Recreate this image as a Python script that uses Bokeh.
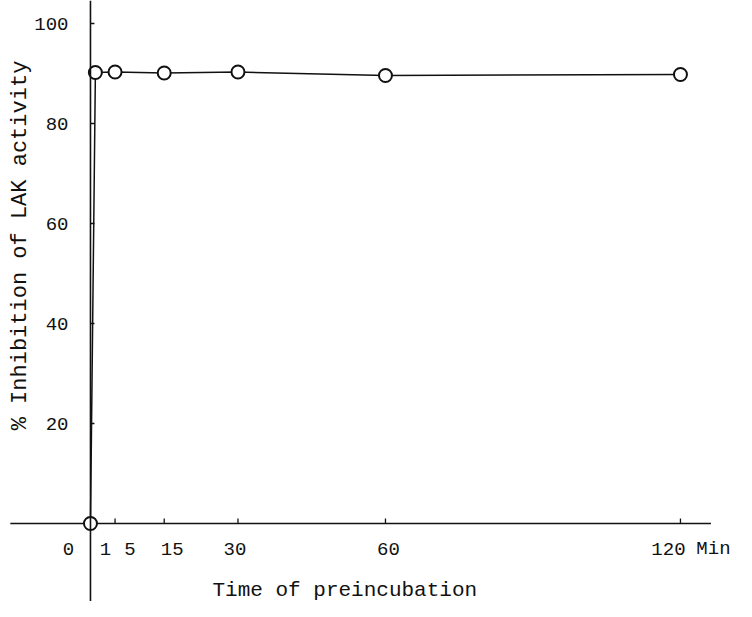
import math
from bokeh.plotting import figure
from bokeh.models import Span, Label, ColumnDataSource, Range1d
from bokeh.core.properties import value
from bokeh.embed import file_html
from bokeh.resources import INLINE

# ---- data ----
times = [0, 1, 5, 15, 30, 60, 120]
inhibition = [0, 90.2, 90.3, 90.1, 90.3, 89.6, 89.8]

x_ticks = [1, 5, 15, 30, 60, 120]
x_tick_values = [0, 1, 5, 15, 30, 60, 120]
x_tick_labels = ["0", "1", "5", "15", "30", "60", "120"]
y_ticks = [20, 40, 60, 80, 100]
y_tick_labels = ["20", "40", "60", "80", "100"]

x_title = "Time of preincubation"
y_title = "% Inhibition of LAK activity"
x_unit = "Min"

# ---- layout / style ----
FONT = value("Liberation Mono")
INK = "#111111"
x_label_offsets = [-22, 10, 15, 8, -3, 3, -12]   # screen px

p = figure(width=736, height=601, output_backend="svg", toolbar_location=None,
           x_axis_type=None, y_axis_type=None, min_border=0,
           x_range=Range1d(-18.3, 131.4), y_range=Range1d(-15.6, 104.6))
p.outline_line_color = None
p.background_fill_color = "white"
p.border_fill_color = "white"

# axes drawn at data zero
p.add_layout(Span(location=0, dimension="height", line_color=INK, line_width=1.6))
p.segment(x0=[-16.3], y0=[0], x1=[126.2], y1=[0], line_color=INK, line_width=1.6)

# tick marks
p.ray(x=[0] * len(y_ticks), y=y_ticks, length=4, length_units="screen", angle=0,
      line_color=INK, line_width=1.5)
p.ray(x=x_ticks, y=[0] * len(x_ticks), length=5, length_units="screen", angle=math.pi / 2,
      line_color=INK, line_width=1.3)

# tick labels
ysrc = ColumnDataSource(dict(x=[0] * len(y_ticks), y=y_ticks, t=y_tick_labels))
p.text(x="x", y="y", text="t", source=ysrc, x_offset=-22, text_align="right",
       text_baseline="middle", text_font=FONT, text_font_size="19px", text_color=INK)

xsrc = ColumnDataSource(dict(x=x_tick_values, y=[0] * len(x_tick_values), t=x_tick_labels,
                             dx=x_label_offsets))
p.text(x="x", y="y", text="t", source=xsrc, x_offset="dx", y_offset=25, text_align="center",
       text_baseline="middle", text_font=FONT, text_font_size="19px", text_color=INK)

p.add_layout(Label(x=120, y=0, x_offset=33, y_offset=-25, text=x_unit, text_align="center",
                   text_baseline="middle", text_font="Liberation Mono", text_font_size="19px",
                   text_color=INK))

# axis titles
p.add_layout(Label(x=0, y=0, x_offset=122, y_offset=-67, text=x_title, text_align="left",
                   text_baseline="middle", text_font="Liberation Mono", text_font_size="21px",
                   text_color=INK))
p.add_layout(Label(x=0, y=55.6, x_offset=-70, text=y_title, angle=math.pi / 2,
                   text_align="center", text_baseline="middle", text_font="Liberation Mono",
                   text_font_size="22px", text_color=INK))

# data
src = ColumnDataSource(dict(t=times, v=inhibition))
p.line(x="t", y="v", source=src, line_color=INK, line_width=1.5)
p.scatter(x="t", y="v", source=src, marker="circle", size=13, fill_color="white",
          line_color=INK, line_width=2)

open("out.html", "w").write(file_html(p, INLINE))
